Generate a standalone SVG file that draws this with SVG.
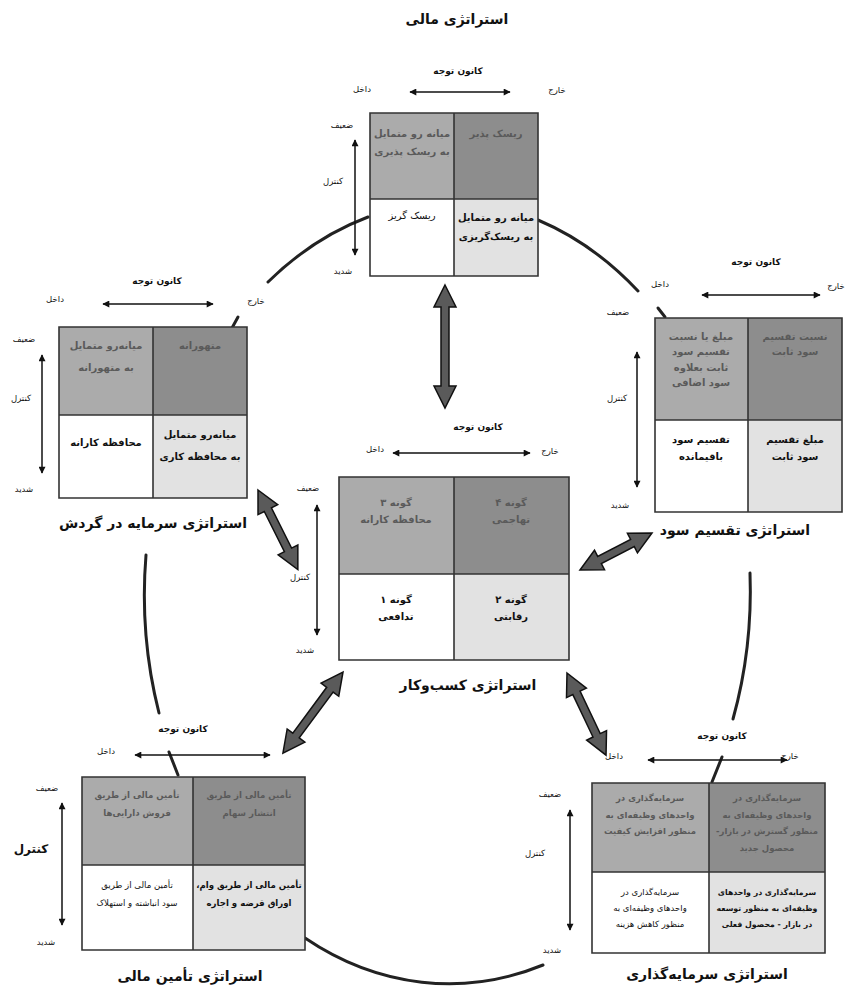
<svg xmlns="http://www.w3.org/2000/svg" width="850" height="991" viewBox="0 0 850 991">
<defs>
<style>
text { font-family: "DejaVu Sans", "Noto Sans", sans-serif; text-anchor: middle; fill: #111; direction: rtl; unicode-bidi: embed; }
.cell { font-size: 10px; font-weight: bold; }
.sm { font-size: 8.6px; }
.reg { font-weight: normal; }
.dim { fill: #5a5a5a; }
.lab { font-size: 8.5px; }
.hd { font-size: 9px; font-weight: bold; }
.title { font-size: 14px; font-weight: bold; }
.q1 { fill: #ababab; }
.q2 { fill: #8d8d8d; }
.q3 { fill: #ffffff; }
.q4 { fill: #e2e2e2; }
.grid { fill: none; stroke: #333; stroke-width: 1.6; }
.thin { stroke: #111; stroke-width: 1.5; fill: none; marker-start: url(#ah); marker-end: url(#ah); }
.arc { fill: none; stroke: #222; stroke-width: 3; stroke-linecap: round; }
.big { fill: #5a5a5a; stroke: #111; stroke-width: 1.5; stroke-linejoin: miter; }
</style>
<marker id="ah" viewBox="0 0 10 10" refX="9" refY="5" markerWidth="9" markerHeight="7" markerUnits="userSpaceOnUse" orient="auto-start-reverse">
<path d="M0,0 L10,5 L0,10 z" fill="#111"/>
</marker>
</defs>
<rect width="850" height="991" fill="#fff"/>

<g id="circle">
<path class="arc" d="M268,282 A305,386 0 0 1 368,217"/>
<path class="arc" d="M538,220 A305,386 0 0 1 638,291"/>
<path class="arc" d="M658,308 L665,317"/>
<path class="arc" d="M750,573 A305,386 0 0 1 733,719"/>
<path class="arc" d="M722,757 L712,782"/>
<path class="arc" d="M543,965 A305,386 0 0 1 305,938"/>
<path class="arc" d="M178,775 L169,752"/>
<path class="arc" d="M159,713 A305,386 0 0 1 146,555"/>
<path class="arc" d="M232,328 L238,317"/>
</g>

<g id="financial">
<text class="title" x="457" y="24">استراتژی مالی</text>
<text class="hd" x="458" y="74">کانون توجه</text>
<line class="thin" x1="410" y1="92" x2="510" y2="92"/>
<text class="lab" x="362" y="92">داخل</text>
<text class="lab" x="557" y="93">خارج</text>
<text class="lab" x="342" y="128">ضعیف</text>
<text class="lab" x="333" y="184">کنترل</text>
<text class="lab" x="343" y="274">شدید</text>
<line class="thin" x1="355" y1="140" x2="355" y2="255"/>
<rect class="q1" x="370" y="113" width="84" height="86"/>
<rect class="q2" x="454" y="113" width="84" height="86"/>
<rect class="q3" x="370" y="199" width="84" height="77"/>
<rect class="q4" x="454" y="199" width="84" height="77"/>
<path class="grid" d="M370,113 H538 V276 H370 Z M454,113 V276 M370,199 H538"/>
<text class="cell dim" x="412" y="137">میانه رو متمایل</text>
<text class="cell dim" x="412" y="155">به ریسک پذیری</text>
<text class="cell dim" x="496" y="137">ریسک پذیر</text>
<text class="cell reg" x="412" y="219">ریسک گریز</text>
<text class="cell" x="496" y="221">میانه رو متمایل</text>
<text class="cell" x="496" y="240">به ریسک‌گریزی</text>
</g>

<g id="working-capital">
<text class="hd" x="157" y="284">کانون توجه</text>
<line class="thin" x1="103" y1="304" x2="213" y2="304"/>
<text class="lab" x="55" y="302">داخل</text>
<text class="lab" x="256" y="304">خارج</text>
<text class="lab" x="24" y="342">ضعیف</text>
<text class="lab" x="21" y="401">کنترل</text>
<text class="lab" x="24" y="492">شدید</text>
<line class="thin" x1="42" y1="355" x2="42" y2="473"/>
<rect class="q1" x="59" y="327" width="94" height="88"/>
<rect class="q2" x="153" y="327" width="94" height="88"/>
<rect class="q3" x="59" y="415" width="94" height="83"/>
<rect class="q4" x="153" y="415" width="94" height="83"/>
<path class="grid" d="M59,327 H247 V498 H59 Z M153,327 V498 M59,415 H247"/>
<text class="cell dim" x="106" y="349">میانه‌رو متمایل</text>
<text class="cell dim" x="106" y="371">به متهورانه</text>
<text class="cell dim" x="200" y="349">متهورانه</text>
<text class="cell" x="106" y="446">محافظه کارانه</text>
<text class="cell" x="200" y="438">میانه‌رو متمایل</text>
<text class="cell" x="200" y="460">به محافظه کاری</text>
<text class="title" x="153" y="528">استراتژی سرمایه در گردش</text>
</g>

<g id="dividend">
<text class="hd" x="756" y="265">کانون توجه</text>
<line class="thin" x1="702" y1="295" x2="820" y2="295"/>
<text class="lab" x="660" y="287">داخل</text>
<text class="lab" x="836" y="289">خارج</text>
<text class="lab" x="618" y="315">ضعیف</text>
<text class="lab" x="617" y="401">کنترل</text>
<text class="lab" x="620" y="508">شدید</text>
<line class="thin" x1="637" y1="352" x2="637" y2="487"/>
<rect class="q1" x="655" y="318" width="93" height="102"/>
<rect class="q2" x="748" y="318" width="94" height="102"/>
<rect class="q3" x="655" y="420" width="93" height="92"/>
<rect class="q4" x="748" y="420" width="94" height="92"/>
<path class="grid" d="M655,318 H842 V512 H655 Z M748,318 V512 M655,420 H842"/>
<text class="cell dim" x="701" y="340">مبلغ یا نسبت</text>
<text class="cell dim" x="701" y="355">تقسیم سود</text>
<text class="cell dim" x="701" y="371">ثابت بعلاوه</text>
<text class="cell dim" x="701" y="386">سود اضافی</text>
<text class="cell dim" x="795" y="340">نسبت تقسیم</text>
<text class="cell dim" x="795" y="355">سود ثابت</text>
<text class="cell" x="701" y="443">تقسیم سود</text>
<text class="cell" x="701" y="460">باقیمانده</text>
<text class="cell" x="795" y="443">مبلغ تقسیم</text>
<text class="cell" x="795" y="460">سود ثابت</text>
<text class="title" x="735" y="535">استراتژی تقسیم سود</text>
</g>

<g id="business">
<text class="hd" x="478" y="430">کانون توجه</text>
<line class="thin" x1="393" y1="453" x2="530" y2="453"/>
<text class="lab" x="375" y="452">داخل</text>
<text class="lab" x="550" y="454">خارج</text>
<text class="lab" x="308" y="491">ضعیف</text>
<text class="lab" x="300" y="580">کنترل</text>
<text class="lab" x="305" y="653">شدید</text>
<line class="thin" x1="317" y1="505" x2="317" y2="635"/>
<rect class="q1" x="339" y="477" width="115" height="97"/>
<rect class="q2" x="454" y="477" width="115" height="97"/>
<rect class="q3" x="339" y="574" width="115" height="86"/>
<rect class="q4" x="454" y="574" width="115" height="86"/>
<path class="grid" d="M339,477 H569 V660 H339 Z M454,477 V660 M339,574 H569"/>
<text class="cell dim" x="396" y="506">گونه ۳</text>
<text class="cell dim" x="396" y="523">محافظه کارانه</text>
<text class="cell dim" x="511" y="506">گونه ۴</text>
<text class="cell dim" x="511" y="523">تهاجمی</text>
<text class="cell" x="396" y="603">گونه ۱</text>
<text class="cell" x="396" y="620">تدافعی</text>
<text class="cell" x="511" y="603">گونه ۲</text>
<text class="cell" x="511" y="620">رقابتی</text>
<text class="title" x="468" y="690">استراتژی کسب‌وکار</text>
</g>

<g id="financing">
<text class="hd" x="183" y="732">کانون توجه</text>
<line class="thin" x1="135" y1="755" x2="270" y2="755"/>
<text class="lab" x="106" y="754">داخل</text>
<text class="lab" x="47" y="791">ضعیف</text>
<text class="title" x="31" y="853" style="font-size:12px">کنترل</text>
<text class="lab" x="46" y="945">شدید</text>
<line class="thin" x1="62" y1="803" x2="62" y2="925"/>
<rect class="q1" x="82" y="777" width="111" height="88"/>
<rect class="q2" x="193" y="777" width="112" height="88"/>
<rect class="q3" x="82" y="865" width="111" height="85"/>
<rect class="q4" x="193" y="865" width="112" height="85"/>
<path class="grid" d="M82,777 H305 V950 H82 Z M193,777 V950 M82,865 H305"/>
<text class="cell dim sm" x="137" y="798">تأمین مالی از طریق</text>
<text class="cell dim sm" x="137" y="816">فروش دارایی‌ها</text>
<text class="cell dim sm" x="249" y="798">تأمین مالی از طریق</text>
<text class="cell dim sm" x="249" y="816">انتشار سهام</text>
<text class="cell reg sm" x="137" y="888">تأمین مالی از طریق</text>
<text class="cell reg sm" x="137" y="906">سود انباشته و استهلاک</text>
<text class="cell sm" x="249" y="888">تأمین مالی از طریق وام،</text>
<text class="cell sm" x="249" y="906">اوراق قرضه و اجاره</text>
<text class="title" x="190" y="981">استراتژی تأمین مالی</text>
</g>

<g id="investment">
<text class="hd" x="722" y="739">کانون توجه</text>
<line class="thin" x1="648" y1="760" x2="787" y2="760"/>
<text class="lab" x="614" y="759">داخل</text>
<text class="lab" x="790" y="759">خارج</text>
<text class="lab" x="550" y="797">ضعیف</text>
<text class="lab" x="535" y="856">کنترل</text>
<text class="lab" x="552" y="953">شدید</text>
<line class="thin" x1="570" y1="810" x2="570" y2="930"/>
<rect class="q1" x="592" y="783" width="117" height="89"/>
<rect class="q2" x="709" y="783" width="116" height="89"/>
<rect class="q3" x="592" y="872" width="117" height="81"/>
<rect class="q4" x="709" y="872" width="116" height="81"/>
<path class="grid" d="M592,783 H825 V953 H592 Z M709,783 V953 M592,872 H825"/>
<text class="cell dim" x="650" y="801" style="font-size:8.5px">سرمایه‌گذاری در</text>
<text class="cell dim" x="650" y="818" style="font-size:8.5px">واحدهای وظیفه‌ای به</text>
<text class="cell dim" x="650" y="834" style="font-size:8.5px">منظور افزایش کیفیت</text>
<text class="cell dim" x="767" y="801" style="font-size:8.5px">سرمایه‌گذاری در</text>
<text class="cell dim" x="767" y="818" style="font-size:8.5px">واحدهای وظیفه‌ای به</text>
<text class="cell dim" x="767" y="834" style="font-size:8.5px">منظور گسترش در بازار-</text>
<text class="cell dim" x="767" y="851" style="font-size:8.5px">محصول جدید</text>
<text class="cell reg" x="650" y="895" style="font-size:8.5px">سرمایه‌گذاری در</text>
<text class="cell reg" x="650" y="911" style="font-size:8.5px">واحدهای وظیفه‌ای به</text>
<text class="cell reg" x="650" y="927" style="font-size:8.5px">منظور کاهش هزینه</text>
<text class="cell" x="767" y="895" style="font-size:7.8px">سرمایه‌گذاری در واحدهای</text>
<text class="cell" x="767" y="911" style="font-size:7.8px">وظیفه‌ای به منظور توسعه</text>
<text class="cell" x="767" y="927" style="font-size:7.8px">در بازار - محصول فعلی</text>
<text class="title" x="707" y="979">استراتژی سرمایه‌گذاری</text>
</g>

<g id="connectors">
<polygon class="big" transform="translate(445,285) rotate(90)" points="0,0 22,-11 22,-4 101,-4 101,-11 123,0 101,11 101,4 22,4 22,11"/>
<polygon class="big" transform="translate(258,490) rotate(63.4)" points="0,0 22,-11 22,-4 67,-4 67,-11 89,0 67,11 67,4 22,4 22,11"/>
<polygon class="big" transform="translate(652,533) rotate(152.8)" points="0,0 22,-11 22,-4 59,-4 59,-11 81,0 59,11 59,4 22,4 22,11"/>
<polygon class="big" transform="translate(343,672) rotate(126.5)" points="0,0 22,-11 22,-4 79,-4 79,-11 101,0 79,11 79,4 22,4 22,11"/>
<polygon class="big" transform="translate(567,673) rotate(64.6)" points="0,0 22,-11 22,-4 69,-4 69,-11 91,0 69,11 69,4 22,4 22,11"/>
</g>
</svg>
